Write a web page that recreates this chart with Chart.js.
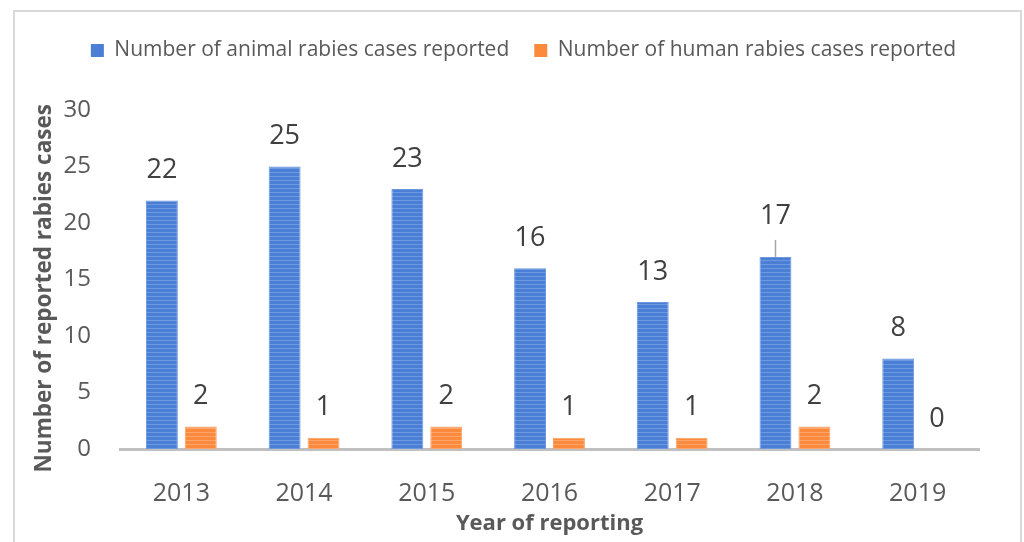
<!DOCTYPE html>
<html>
<head>
<meta charset="utf-8">
<script src="https://cdn.jsdelivr.net/npm/chart.js@4/dist/chart.umd.min.js"></script>
<style>
  html, body { margin: 0; padding: 0; background: #ffffff; }
  #wrap { position: relative; width: 1024px; height: 542px; }
</style>
</head>
<body>
<div id="wrap"><canvas id="c" width="1024" height="542"></canvas></div>
<script>
const years = ['2013', '2014', '2015', '2016', '2017', '2018', '2019'];
const animalCases = [22, 25, 23, 16, 13, 17, 8];
const humanCases = [2, 1, 2, 1, 1, 2, 0];
const seriesNames = ['Number of animal rabies cases reported', 'Number of human rabies cases reported'];
const yTicks = [0, 5, 10, 15, 20, 25, 30];

const FONT = '"Open Sans", "Noto Sans", sans-serif';
const BLUE = '#4a7fd5';
const BLUE_LIGHT = '#6d99e0';
const ORANGE = '#fb8a3c';
const ORANGE_LIGHT = '#fda66c';

function stripePattern(base, light) {
  const pc = document.createElement('canvas');
  pc.width = 4; pc.height = 4;
  const g = pc.getContext('2d');
  g.fillStyle = base; g.fillRect(0, 0, 4, 4);
  g.fillStyle = light; g.fillRect(0, 0, 4, 1);
  return g.createPattern(pc, 'repeat');
}

const framePlugin = {
  id: 'frame',
  beforeDraw(chart) {
    const ctx = chart.ctx;
    ctx.save();
    ctx.strokeStyle = '#d9d9d9';
    ctx.lineWidth = 2;
    ctx.strokeRect(14, 11, 1007, 545);
    ctx.restore();
  }
};

const LAYOUT_TOP = 15;
const LEGEND_SHIFT = 34;
const legendSizePlugin = {
  id: 'legendSize',
  beforeLayout(chart) {
    const lg = chart.legend;
    if (lg && !lg._patched) {
      const f = lg.fit;
      lg.fit = function () { f.call(this); this.height = 110 - LAYOUT_TOP; };
      lg._patched = true;
    }
  },
  afterLayout(chart) {
    const lg = chart.legend;
    if (lg) { lg.left += LEGEND_SHIFT; lg.right += LEGEND_SHIFT; }
  }
};

const valueLabelPlugin = {
  id: 'valueLabels',
  afterDatasetsDraw(chart) {
    const ctx = chart.ctx;
    ctx.save();
    ctx.font = '27px ' + FONT;
    ctx.fillStyle = '#404040';
    ctx.textAlign = 'center';
    ctx.textBaseline = 'middle';
    chart.data.datasets.forEach((ds, di) => {
      const meta = chart.getDatasetMeta(di);
      meta.data.forEach((el, i) => {
        const p = el.getProps(['x', 'y'], true);
        let off = 30;
        if (di === 0 && i === 5) {
          off = 41;
          ctx.save();
          ctx.strokeStyle = '#a6a6a6';
          ctx.lineWidth = 1.5;
          ctx.beginPath();
          ctx.moveTo(p.x, p.y - 17);
          ctx.lineTo(p.x, p.y);
          ctx.stroke();
          ctx.restore();
        }
        ctx.fillText(String(ds.data[i]), p.x, p.y - off);
      });
    });
    ctx.restore();
  }
};

new Chart(document.getElementById('c'), {
  type: 'bar',
  data: {
    labels: years,
    datasets: [
      {
        label: seriesNames[0],
        data: animalCases,
        backgroundColor: stripePattern(BLUE, BLUE_LIGHT),
        borderColor: '#6a97de',
        borderWidth: 1,
        categoryPercentage: 0.634,
        barPercentage: 0.82
      },
      {
        label: seriesNames[1],
        data: humanCases,
        backgroundColor: stripePattern(ORANGE, ORANGE_LIGHT),
        borderColor: '#fca061',
        borderWidth: 1,
        categoryPercentage: 0.634,
        barPercentage: 0.82
      }
    ]
  },
  options: {
    responsive: false,
    animation: false,
    devicePixelRatio: 1,
    layout: { padding: { left: 0, right: 45, top: LAYOUT_TOP, bottom: 0 } },
    plugins: {
      tooltip: { enabled: false },
      legend: {
        position: 'top',
        align: 'center',
        labels: {
          font: { family: FONT, size: 21 },
          color: '#595959',
          boxWidth: 13,
          boxHeight: 13,
          padding: 25,
          generateLabels(chart) {
            return chart.data.datasets.map((ds, i) => ({
              text: ds.label,
              fillStyle: i === 0 ? BLUE : ORANGE,
              strokeStyle: i === 0 ? BLUE : ORANGE,
              lineWidth: 0,
              fontColor: '#595959',
              hidden: false,
              datasetIndex: i
            }));
          }
        }
      }
    },
    scales: {
      x: {
        grid: { display: false, drawTicks: false },
        border: { display: true, color: '#c0c0c0', width: 3 },
        ticks: { font: { family: FONT, size: 25 }, color: '#595959', padding: 30 },
        title: {
          display: true,
          text: 'Year of reporting',
          font: { family: FONT, size: 22, weight: 'bold' },
          color: '#595959',
          padding: { top: 0, bottom: 5 }
        },
        afterFit(scale) { scale.height = 93; }
      },
      y: {
        min: 0,
        max: 30,
        grid: { display: false, drawTicks: false },
        border: { display: false },
        afterBuildTicks(scale) { scale.ticks = yTicks.map(v => ({ value: v })); },
        ticks: { font: { family: FONT, size: 24 }, color: '#595959', padding: 29 },
        title: {
          display: true,
          text: 'Number of reported rabies cases   ',
          font: { family: FONT, size: 22.5, weight: 'bold' },
          color: '#595959',
          padding: { top: 31, bottom: 0 }
        },
        afterFit(scale) { scale.width = 120; }
      }
    }
  },
  plugins: [framePlugin, legendSizePlugin, valueLabelPlugin]
});
</script>
</body>
</html>
